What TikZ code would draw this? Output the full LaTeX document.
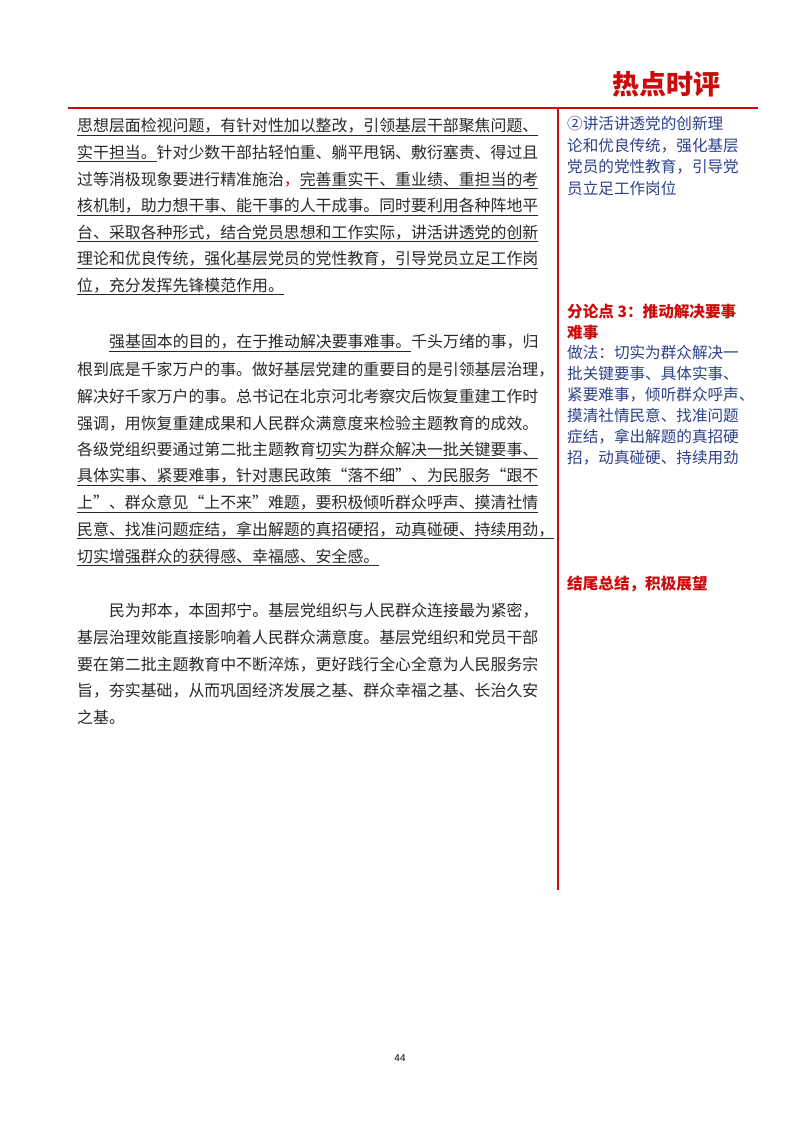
\documentclass[tikz,border=0pt]{standalone}
\usepackage{fontspec}
\newfontfamily\cjk{Noto Sans CJK SC}
\newfontfamily\pgnum{Liberation Sans}
\definecolor{myred}{RGB}{205,10,10}
\definecolor{myblue}{RGB}{45,65,140}
\definecolor{mytext}{RGB}{40,40,40}
\begin{document}
\begin{tikzpicture}[x=1pt,y=-1pt,
  mainline/.style={anchor=west,inner sep=0pt,font=\cjk\fontsize{15.9}{18}\selectfont,text=mytext},
  sideline/.style={anchor=west,inner sep=0pt,font=\cjk\fontsize{15.6}{17}\selectfont,text=myblue},
  redline/.style={anchor=west,inner sep=0pt,font=\cjk\bfseries\fontsize{15.6}{17}\selectfont,text=myred}]
\useasboundingbox (0,0) rectangle (800,1132);
\fill[white] (0,0) rectangle (800,1132);
\node[anchor=center,inner sep=0pt,font=\cjk\bfseries\fontsize{27}{30}\selectfont,text=myred] (title) at (666,84) {热点时评};
\coordinate (hl) at (68,108); \coordinate (hr) at (758,108);
\coordinate (vt) at (558,108); \coordinate (vb) at (558,890);
\draw[myred,line width=2.2pt] (hl) -- (hr);
\draw[myred,line width=2pt] (vt) -- (vb);
% paragraph 1
\node[mainline] (a1) at (77,127) {\underline{思想层面检视问题，有针对性加以整改，引领基层干部聚焦问题、}};
\node[mainline] (a2) at (77,153.6) {\underline{实干担当。}针对少数干部拈轻怕重、躺平甩锅、敷衍塞责、得过且};
\node[mainline] (a3) at (77,180.2) {过等消极现象要进行精准施治{\color{myred}，}\underline{完善重实干、重业绩、重担当的考}};
\node[mainline] (a4) at (77,206.8) {\underline{核机制，助力想干事、能干事的人干成事。同时要利用各种阵地平}};
\node[mainline] (a5) at (77,233.4) {\underline{台、采取各种形式，结合党员思想和工作实际，讲活讲透党的创新}};
\node[mainline] (a6) at (77,260) {\underline{理论和优良传统，强化基层党员的党性教育，引导党员立足工作岗}};
\node[mainline] (a7) at (77,286.6) {\underline{位，充分发挥先锋模范作用。}};
% paragraph 2
\node[mainline] (b1) at (109,343) {\underline{强基固本的目的，在于推动解决要事难事。}千头万绪的事，归};
\node[mainline] (b2) at (77,369.8) {根到底是千家万户的事。做好基层党建的重要目的是引领基层治理，};
\node[mainline] (b3) at (77,396.6) {解决好千家万户的事。总书记在北京河北考察灾后恢复重建工作时};
\node[mainline] (b4) at (77,423.4) {强调，用恢复重建成果和人民群众满意度来检验主题教育的成效。};
\node[mainline] (b5) at (77,450.2) {各级党组织要通过第二批主题教育\underline{切实为群众解决一批关键要事、}};
\node[mainline] (b6) at (77,477) {\underline{具体实事、紧要难事，针对惠民政策“落不细”、为民服务“跟不}};
\node[mainline] (b7) at (77,503.8) {\underline{上”、群众意见“上不来”难题，要积极倾听群众呼声、摸清社情}};
\node[mainline] (b8) at (77,530.6) {\underline{民意、找准问题症结，拿出解题的真招硬招，动真碰硬、持续用劲，}};
\node[mainline] (b9) at (77,557.4) {\underline{切实增强群众的获得感、幸福感、安全感。}};
% paragraph 3
\node[mainline] (c1) at (109,611) {民为邦本，本固邦宁。基层党组织与人民群众连接最为紧密，};
\node[mainline] (c2) at (77,637.6) {基层治理效能直接影响着人民群众满意度。基层党组织和党员干部};
\node[mainline] (c3) at (77,664.2) {要在第二批主题教育中不断淬炼，更好践行全心全意为人民服务宗};
\node[mainline] (c4) at (77,690.8) {旨，夯实基础，从而巩固经济发展之基、群众幸福之基、长治久安};
\node[mainline] (c5) at (77,717.4) {之基。};
% side column
\node[sideline] (s1) at (567,124) {②讲活讲透党的创新理};
\node[sideline] (s2) at (567,145.5) {论和优良传统，强化基层};
\node[sideline] (s3) at (567,167) {党员的党性教育，引导党};
\node[sideline] (s4) at (567,188.5) {员立足工作岗位};
\node[redline] (r1) at (567,312) {分论点 3：推动解决要事};
\node[redline] (r2) at (567,333) {难事};
\node[sideline] (t1) at (567,353) {做法：切实为群众解决一};
\node[sideline] (t2) at (567,374) {批关键要事、具体实事、};
\node[sideline] (t3) at (567,395) {紧要难事，倾听群众呼声、};
\node[sideline] (t4) at (567,416) {摸清社情民意、找准问题};
\node[sideline] (t5) at (567,437) {症结，拿出解题的真招硬};
\node[sideline] (t6) at (567,458) {招，动真碰硬、持续用劲};
\node[redline] (e1) at (567,584) {结尾总结，积极展望};
\node[inner sep=0pt,font=\pgnum\fontsize{10}{12}\selectfont] (pg) at (400,1058) {44};
\end{tikzpicture}
\end{document}
